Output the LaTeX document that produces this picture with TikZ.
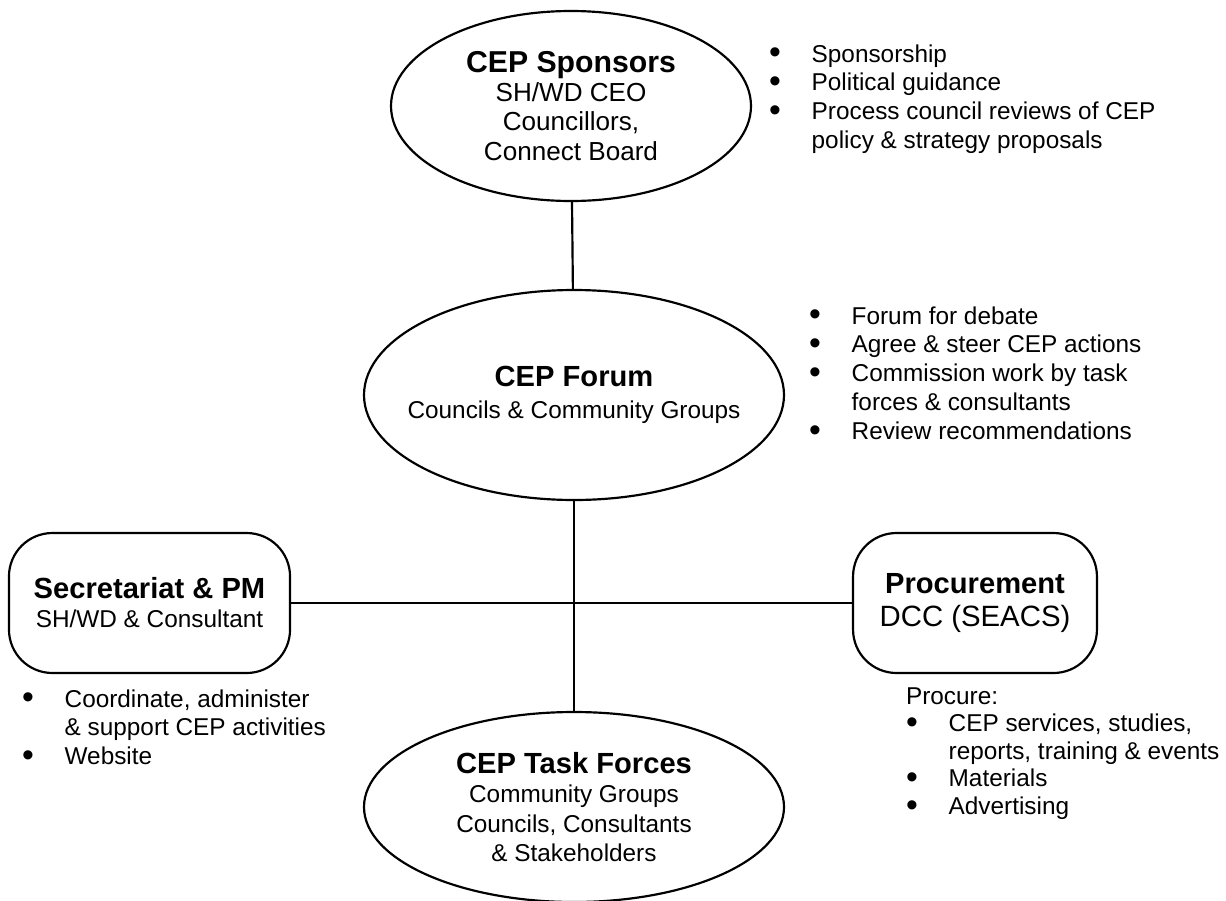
\documentclass[tikz,border=0pt]{standalone}
\usepackage{fontspec}
\setmainfont{Liberation Sans}
\usetikzlibrary{shapes.geometric}

\newcommand{\bodyfont}{\fontsize{11.2}{13.3}\selectfont}
\newcommand{\ttl}[1]{{\fontsize{13.4}{13.3}\selectfont\bfseries #1}}
\newcommand{\itm}{\makebox[19.6pt][l]{\smash{\raisebox{-0.9pt}{\fontsize{15.5}{13.3}\selectfont\textbullet}}}}

\begin{document}
\begin{tikzpicture}[x=0.46pt,y=-0.46pt,line width=1pt]
        \tikzstyle{group}=[ellipse,draw,inner xsep=-10pt,inner ysep=0pt,align=center,font=\bodyfont]
        \tikzstyle{office}=[rectangle,draw,rounded corners=20pt,minimum height=64.4pt,align=center,font=\bodyfont]
        \tikzstyle{duties}=[anchor=base west,inner sep=0pt,font=\bodyfont]
        \tikzstyle{link}=[draw]
        \useasboundingbox (0,0) rectangle (1226,900);
        % bodies
        \node [group,minimum width=165.6pt,minimum height=87.4pt,font=\fontsize{12}{13.4}\selectfont] (sponsors) at (571,106)
          {{\fontsize{13.9}{13.4}\selectfont\bfseries CEP Sponsors}\\SH/WD CEO\\Councillors,\\Connect Board};
        \node [group,minimum width=193.2pt,minimum height=96.6pt] (forum) at (574,395)
          {\ttl{CEP Forum}\\[1.3pt]Councils \& Community Groups};
        \node [group,minimum width=193.2pt,minimum height=87.4pt,font=\fontsize{11.2}{13.5}\selectfont] (taskforces) at (574,807)
          {\ttl{CEP Task Forces}\\Community Groups\\Councils, Consultants\\\& Stakeholders};
        \node [office,minimum width=129.3pt] (secretariat) at (149.5,603)
          {\ttl{Secretariat \& PM}\\SH/WD \& Consultant};
        \node [office,minimum width=112.2pt,font=\fontsize{13.5}{15.2}\selectfont] (procurement) at (975,603)
          {\ttl{Procurement}\\DCC (SEACS)};
        % links
        \path[link] (sponsors) -- (forum);
        \path[link] (forum) -- (taskforces);
        \path[link] (secretariat) -- (procurement);
        % duties
        \node [duties] (sponsorsduties) at (768,62) {\begin{tabular}[t]{@{}l@{}l@{}}
          \itm & Sponsorship\\
          \itm & Political guidance\\
          \itm & Process council reviews of CEP\\
               & policy \& strategy proposals
        \end{tabular}};
        \node [duties] (forumduties) at (808,324) {\begin{tabular}[t]{@{}l@{}l@{}}
          \itm & Forum for debate\\
          \itm & Agree \& steer CEP actions\\
          \itm & Commission work by task\\
               & forces \& consultants\\
          \itm & Review recommendations
        \end{tabular}};
        \node [duties] (secretariatduties) at (21,707) {\begin{tabular}[t]{@{}l@{}l@{}}
          \itm & Coordinate, administer\\
               & \& support CEP activities\\
          \itm & Website
        \end{tabular}};
        \node [duties,font=\fontsize{11.2}{12.7}\selectfont] (procurementduties) at (905,704) {\begin{tabular}[t]{@{}l@{}l@{}}
          \multicolumn{2}{@{}l@{}}{Procure:}\\
          \itm & CEP services, studies,\\
               & reports, training \& events\\
          \itm & Materials\\
          \itm & Advertising
        \end{tabular}};
\end{tikzpicture}
\end{document}
